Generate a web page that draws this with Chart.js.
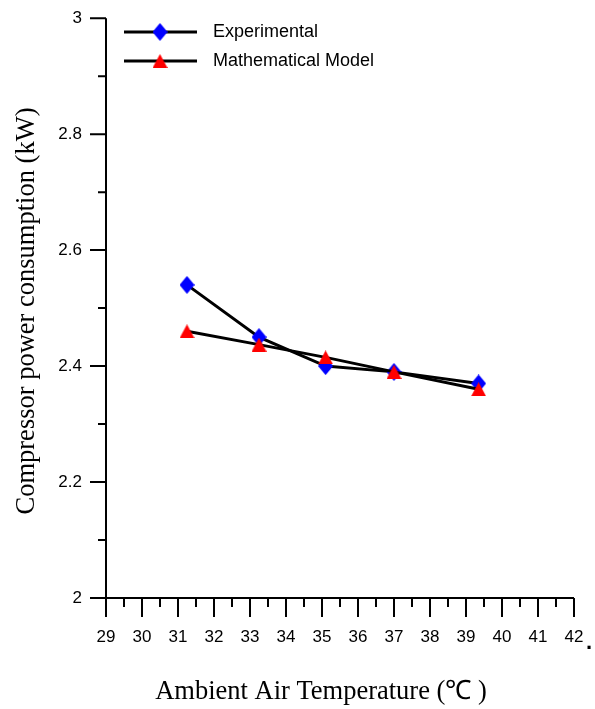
<!DOCTYPE html>
<html>
<head>
<meta charset="utf-8">
<script src="https://cdn.jsdelivr.net/npm/chart.js@4/dist/chart.umd.min.js"></script>
<style>
  html, body { margin: 0; padding: 0; background: #fff; }
  #wrap { width: 595px; height: 709px; }
</style>
</head>
<body>
<div id="wrap"><canvas id="power-chart" width="595" height="709"></canvas></div>
<script>
const temperature = [31.25, 33.25, 35.1, 37.0, 39.35];
const experimental = [2.54, 2.45, 2.40, 2.39, 2.37];
const mathematicalModel = [2.46, 2.437, 2.415, 2.39, 2.36];
const xTickValues = [29, 30, 31, 32, 33, 34, 35, 36, 37, 38, 39, 40, 41, 42];
const yTickValues = [2, 2.2, 2.4, 2.6, 2.8, 3];
const seriesNames = ['Experimental', 'Mathematical Model'];
const xTitle = 'Ambient Air Temperature (\u2103 )';
const yTitle = 'Compressor power consumption (kW)';

const tickFont = { family: '"Liberation Sans", Arial, sans-serif', size: 17 };

function toPoints(values) {
    return temperature.map((t, i) => ({ x: t, y: values[i] }));
}

// marker sprites: a tall blue diamond and a red triangle
function makeMarker(w, h, color, shape) {
    const c = document.createElement('canvas');
    c.width = w;
    c.height = h;
    const g = c.getContext('2d');
    g.fillStyle = color;
    g.beginPath();
    if (shape === 'diamond') {
        g.moveTo(w / 2, 0);
        g.lineTo(w, h / 2);
        g.lineTo(w / 2, h);
        g.lineTo(0, h / 2);
    } else {
        g.moveTo(w / 2, 0);
        g.lineTo(w, h);
        g.lineTo(0, h);
    }
    g.closePath();
    g.fill();
    return c;
}
const diamond = makeMarker(15, 18, '#0000ff', 'diamond');
const triangle = makeMarker(15, 14, '#ff0000', 'triangle');

// axis lines, major/minor ticks, titles and the key
const frame = {
    id: 'frame',
    afterDraw(chart) {
        const ctx = chart.ctx;
        const xs = chart.scales.x;
        const ys = chart.scales.y;
        const left = xs.getPixelForValue(xTickValues[0]);
        const right = xs.getPixelForValue(xTickValues[xTickValues.length - 1]);
        const top = ys.getPixelForValue(yTickValues[yTickValues.length - 1]);
        const bottom = ys.getPixelForValue(yTickValues[0]);

        ctx.save();
        ctx.strokeStyle = '#000';
        ctx.lineWidth = 2;
        ctx.lineCap = 'butt';
        ctx.beginPath();
        ctx.moveTo(left, top);
        ctx.lineTo(left, bottom);
        ctx.moveTo(left, bottom);
        ctx.lineTo(right, bottom);

        xTickValues.forEach((v, i) => {
            const px = xs.getPixelForValue(v);
            ctx.moveTo(px, bottom);
            ctx.lineTo(px, bottom + 19);
            if (i < xTickValues.length - 1) {
                const mx = xs.getPixelForValue((v + xTickValues[i + 1]) / 2);
                ctx.moveTo(mx, bottom);
                ctx.lineTo(mx, bottom + 9);
            }
        });
        yTickValues.forEach((v, i) => {
            const py = ys.getPixelForValue(v);
            ctx.moveTo(left, py);
            ctx.lineTo(left - 16, py);
            if (i < yTickValues.length - 1) {
                const my = ys.getPixelForValue((v + yTickValues[i + 1]) / 2);
                ctx.moveTo(left, my);
                ctx.lineTo(left - 8, my);
            }
        });
        ctx.stroke();

        // axis titles
        ctx.fillStyle = '#000';
        ctx.font = '26.5px "Liberation Serif", "Times New Roman", serif';
        ctx.textAlign = 'center';
        ctx.textBaseline = 'middle';
        ctx.fillText(xTitle, 321, 692);
        ctx.save();
        ctx.translate(27, 311);
        ctx.rotate(-Math.PI / 2);
        ctx.fillText(yTitle, 0, 0);
        ctx.restore();

        ctx.font = 'bold 22px "Liberation Sans", Arial, sans-serif';
        ctx.textAlign = 'left';
        ctx.textBaseline = 'alphabetic';
        ctx.fillText('.', 586, 649);

        // key
        const rows = [32, 61];
        chart.data.datasets.forEach((ds, i) => {
            const y = rows[i];
            ctx.strokeStyle = ds.borderColor;
            ctx.lineWidth = ds.borderWidth;
            ctx.beginPath();
            ctx.moveTo(124, y);
            ctx.lineTo(197, y);
            ctx.stroke();
            Chart.helpers.drawPoint(ctx, {
                pointStyle: ds.pointStyle,
                radius: ds.pointRadius,
                rotation: 0,
                borderWidth: 0
            }, 160, y);
            ctx.fillStyle = '#000';
            ctx.font = '18px "Liberation Sans", Arial, sans-serif';
            ctx.textAlign = 'left';
            ctx.textBaseline = 'middle';
            ctx.fillText(ds.label, 213, y);
        });
        ctx.restore();
    }
};

new Chart(document.getElementById('power-chart'), {
    type: 'line',
    data: {
        datasets: [
            {
                label: seriesNames[0],
                data: toPoints(experimental),
                borderColor: '#000',
                borderWidth: 3,
                pointStyle: diamond,
                pointRadius: 8,
                order: 1
            },
            {
                label: seriesNames[1],
                data: toPoints(mathematicalModel),
                borderColor: '#000',
                borderWidth: 3,
                pointStyle: triangle,
                pointRadius: 8,
                order: 0
            }
        ]
    },
    options: {
        responsive: false,
        animation: false,
        layout: { padding: { top: 17, right: 21, left: 0, bottom: 0 } },
        plugins: {
            legend: { display: false },
            tooltip: { enabled: false }
        },
        scales: {
            x: {
                type: 'linear',
                min: 29,
                max: 42,
                afterBuildTicks: s => { s.ticks = xTickValues.map(v => ({ value: v })); },
                afterFit: s => { s.height = 111; },
                ticks: { font: tickFont, color: '#000', padding: 10, maxRotation: 0, callback: v => String(v) },
                grid: { display: false, drawTicks: true, tickLength: 19 },
                border: { display: false }
            },
            y: {
                type: 'linear',
                min: 2,
                max: 3,
                afterBuildTicks: s => { s.ticks = yTickValues.map(v => ({ value: v })); },
                afterFit: s => { s.width = 106; },
                ticks: { font: tickFont, color: '#000', padding: 8, callback: v => String(v) },
                grid: { display: false, drawTicks: true, tickLength: 16 },
                border: { display: false }
            }
        }
    },
    plugins: [frame]
});
</script>
</body>
</html>
